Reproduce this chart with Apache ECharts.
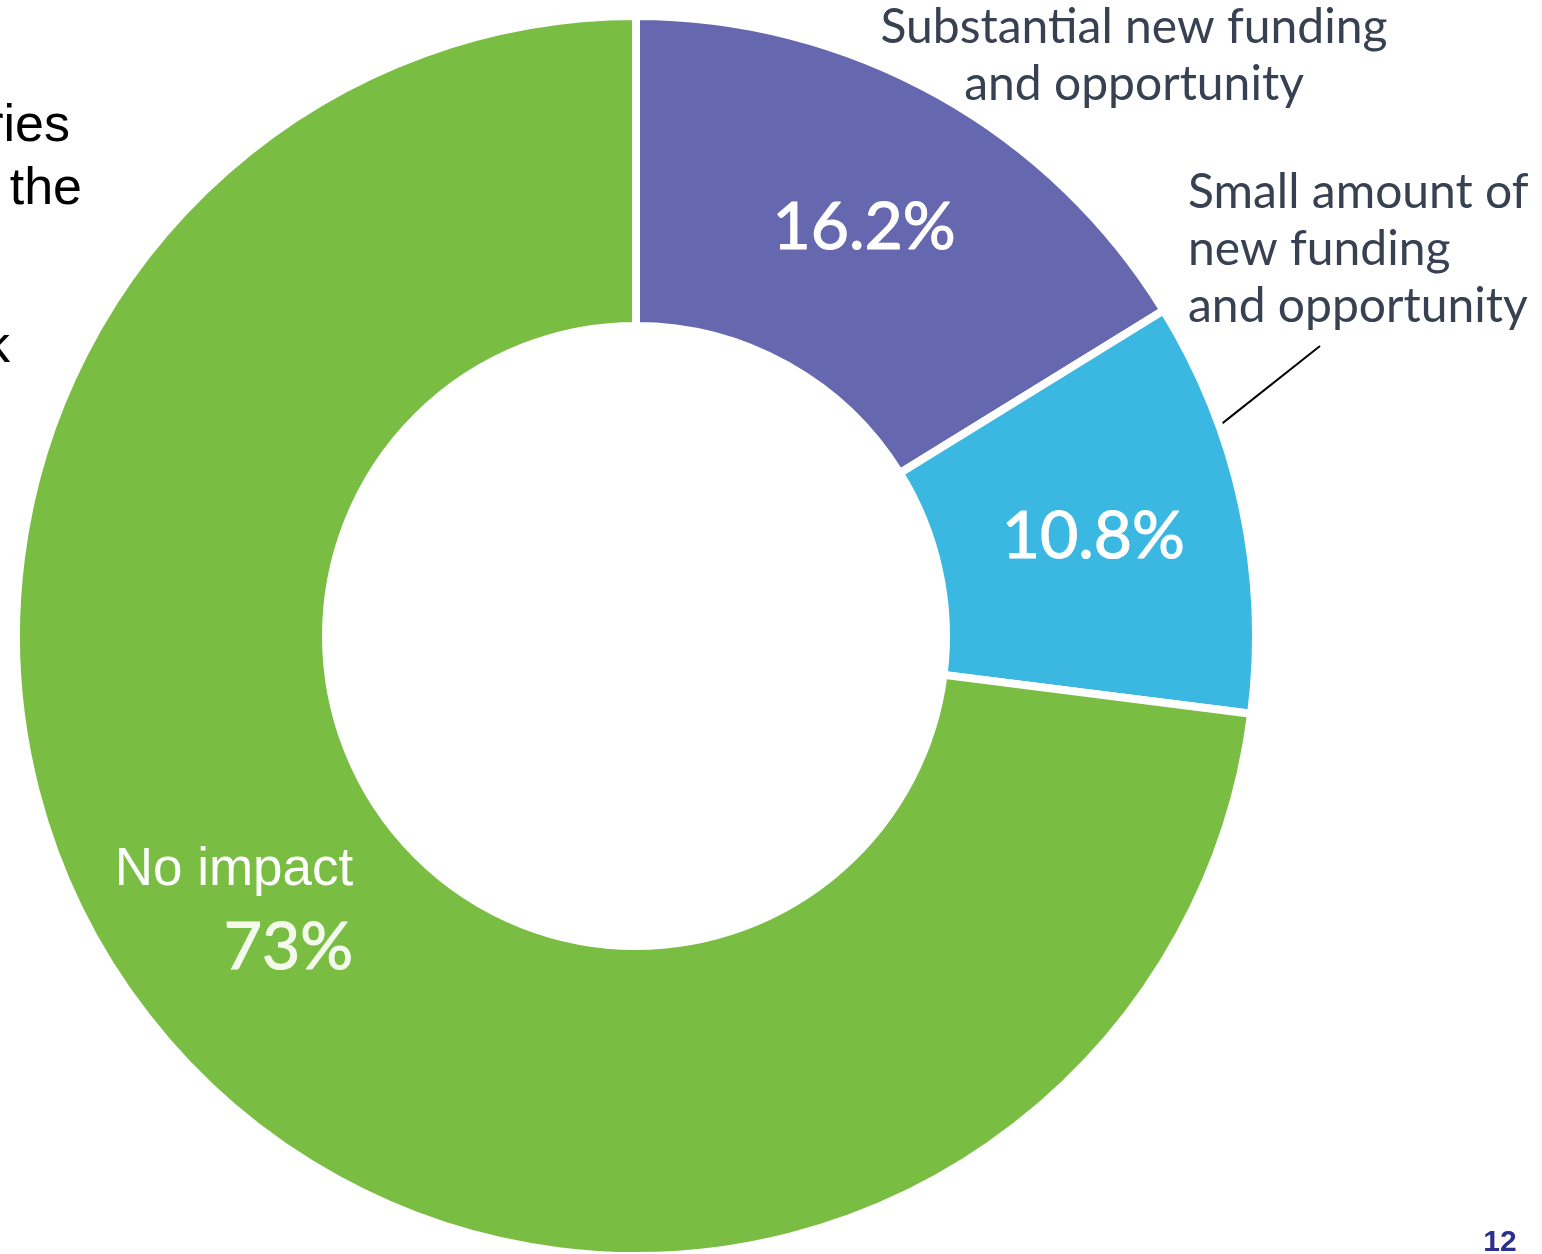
<!DOCTYPE html>
<html>
<head>
<meta charset="utf-8">
<script src="https://cdn.jsdelivr.net/npm/echarts@6/dist/echarts.min.js"></script>
<style>
    html, body { margin: 0; padding: 0; background: #ffffff; }
    #chart { width: 1542px; height: 1254px; }
</style>
</head>
<body>
<div id="chart"></div>
<script>
// data
const categories = ['Substantial new funding and opportunity', 'Small amount of new funding and opportunity', 'No impact']
const shares = [16.2, 10.8, 73]
const outsideLabels = ['Substantial new funding\nand opportunity', 'Small amount of\nnew funding\nand opportunity', '']
const sliceColors = ['#6568ae', '#3bb8e2', '#79bd43']

// layout
const CENTER = [636, 636]
const RADIUS = [310, 620]
const TEXT_DARK = '#374152'

const chartDom = document.getElementById('chart')
const chart = echarts.init(chartDom)

// inner labels (percent); the green one also carries its name
const innerData = shares.map((v, i) => {
    const item = { name: categories[i], value: v, itemStyle: { color: sliceColors[i] } }
    if (i === 2) {
        item.label = {
            formatter: '{a|No impact}\n{b|' + v + '%}',
            offset: [-51, -32],
            align: 'right'
        }
    }
    return item
})

// outer labels, on a transparent copy of the ring
const outerData = shares.map((v, i) => ({
    name: categories[i],
    value: v,
    label: { show: outsideLabels[i] !== '', formatter: outsideLabels[i] },
    labelLine: { show: i === 1 }
}))

const option = {
    backgroundColor: '#ffffff',
    animation: false,
    series: [
        {
            type: 'pie',
            center: CENTER,
            radius: RADIUS,
            startAngle: 90,
            clockwise: true,
            silent: true,
            avoidLabelOverlap: false,
            itemStyle: { borderColor: '#ffffff', borderWidth: 8 },
            label: {
                show: true,
                position: 'inside',
                color: '#ffffff',
                fontFamily: 'Lato',
                fontSize: 66,
                textBorderColor: '#ffffff',
                textBorderWidth: 1.2,
                formatter: (p) => p.value + '%',
                rich: {
                    a: { fontFamily: 'Liberation Sans', fontSize: 53, lineHeight: 68, color: '#ffffff', textBorderWidth: 0, align: 'right' },
                    b: { fontFamily: 'Lato', fontSize: 66, lineHeight: 86, color: '#f3faec', textBorderColor: '#f3faec', textBorderWidth: 1.2, align: 'right' }
                }
            },
            labelLine: { show: false },
            data: innerData
        },
        {
            type: 'pie',
            center: CENTER,
            radius: RADIUS,
            startAngle: 90,
            clockwise: true,
            silent: true,
            avoidLabelOverlap: false,
            itemStyle: { color: 'rgba(0,0,0,0)' },
            label: {
                position: 'outside',
                color: TEXT_DARK,
                fontFamily: 'Lato',
                fontSize: 48,
                lineHeight: 57
            },
            labelLine: { lineStyle: { color: '#000000', width: 2 } },
            labelLayout: (params) => {
                if (params.dataIndex === 0) {
                    return { x: 1134, y: 56, align: 'center', verticalAlign: 'middle' }
                }
                if (params.dataIndex === 1) {
                    // leader leaves the outer edge ~19.7 deg above horizontal
                    const a = 19.7 * Math.PI / 180
                    const r = 616
                    return {
                        x: 1188, y: 250, align: 'left', verticalAlign: 'middle',
                        labelLinePoints: [
                            [CENTER[0] + r * Math.cos(a), CENTER[1] - r * Math.sin(a)],
                            [1320, 346],
                            [1320, 346]
                        ]
                    }
                }
                return {}
            },
            data: outerData
        }
    ],
    graphic: {
        elements: [
            // slide text cut off at the left edge
            { type: 'text', x: 70, y: 153, style: { text: 'ries', fill: '#000000', font: '52px "Liberation Sans"', textAlign: 'right', textVerticalAlign: 'bottom' } },
            { type: 'text', x: 82, y: 216, style: { text: 'the', fill: '#000000', font: '52px "Liberation Sans"', textAlign: 'right', textVerticalAlign: 'bottom' } },
            { type: 'text', x: 10, y: 374, style: { text: 'k', fill: '#000000', font: '52px "Liberation Sans"', textAlign: 'right', textVerticalAlign: 'bottom' } },
            // page number
            { type: 'text', x: 1500, y: 1258, style: { text: '12', fill: '#2b2f8f', font: 'bold 30px "Liberation Sans"', textAlign: 'center', textVerticalAlign: 'bottom' } }
        ]
    }
}

chart.setOption(option)
</script>
</body>
</html>
